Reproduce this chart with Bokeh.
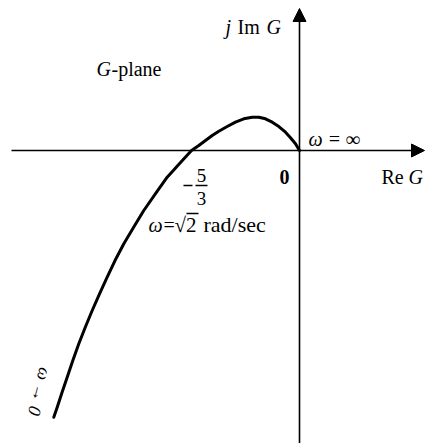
from bokeh.plotting import figure
from bokeh.models import Range1d, Arrow, NormalHead
from bokeh.core.properties import value
from bokeh.embed import file_html
from bokeh.resources import INLINE

# Polar (Nyquist) locus of G(jw) in the G-plane: from w = inf at the origin,
# over the small lobe above the real axis, through -5/3, and down-left toward w = 0+
re_g = [0.0, -0.062, -0.139, -0.216, -0.319, -0.421, -0.525, -0.628, -0.730, -0.860,
        -0.988, -1.116, -1.245, -1.347, -1.451, -1.554, -5 / 3,
        -1.836, -2.042, -2.222, -2.403, -2.562, -2.711, -2.847, -2.968, -3.086,
        -3.199, -3.306, -3.406, -3.498, -3.585, -3.665, -3.739, -3.792]
im_g = [0.0, 0.103, 0.196, 0.282, 0.370, 0.437, 0.489, 0.514, 0.514, 0.489,
        0.437, 0.370, 0.298, 0.231, 0.154, 0.077, 0.0,
        -0.185, -0.412, -0.664, -0.926, -1.188, -1.440, -1.698, -1.955, -2.211,
        -2.469, -2.727, -2.983, -3.241, -3.498, -3.735, -3.961, -4.116]

crossing_label = ("5", "3")

W, H = 425, 443
OX, OY = 299, 150      # origin position on the canvas
S = 64.8               # pixels per unit


def X(px):
    return (px - OX) / S


def Y(py):
    return (OY - py) / S


p = figure(width=W, height=H, x_range=Range1d(X(0), X(W)), y_range=Range1d(Y(H), Y(0)),
           toolbar_location=None, output_backend="svg", min_border=0,
           x_axis_location=None, y_axis_location=None, background_fill_color="white",
           border_fill_color="white")
p.grid.visible = False
p.outline_line_color = None

# Axes with arrow heads
p.add_layout(Arrow(x_start=X(11), y_start=0, x_end=X(424), y_end=0, line_width=1.6,
                   line_color="black",
                   end=NormalHead(size=13, fill_color="black", line_color="black", line_width=1)))
p.add_layout(Arrow(x_start=0, y_start=Y(H + 5), x_end=0, y_end=Y(8), line_width=1.6,
                   line_color="black",
                   end=NormalHead(size=13, fill_color="black", line_color="black", line_width=1)))

# Locus
p.line(re_g, im_g, line_width=3, line_color="black", line_join="round", line_cap="round")

SERIF = value("Liberation Serif")


def label(txt, px, py, size=20, style="normal", align="left", angle=0.0):
    p.text(x=[X(px)], y=[Y(py)], text=[txt], text_font=SERIF, text_font_size=f"{size}px",
           text_font_style=style, text_align=align, text_baseline="middle",
           text_color="black", angle=angle)


# j Im G
label("j", 225, 26, style="italic")
label("Im", 237, 26)
label("G", 266, 26, style="italic")

# G-plane
label("G", 96, 68, style="italic")
label("-plane", 111, 68)

# w = inf
label("ω = ∞", 308, 138, style="italic")

# origin and Re G
label("0", 284, 176, style="bold", align="center")
label("Re", 381, 176)
label("G", 408, 176, style="italic")

# -5/3 fraction at the real-axis crossing
label(crossing_label[0], 201, 175, size=19, align="center")
label(crossing_label[1], 201, 198, size=19, align="center")
p.line([X(195), X(207)], [Y(185), Y(185)], line_width=1.3, line_color="black")
p.line([X(183), X(192)], [Y(185), Y(185)], line_width=1.3, line_color="black")

# w = sqrt(2) rad/sec
label("ω", 148, 224, style="italic")
label("=", 163, 224)
label("√2", 174, 224, size=21)
p.line([X(186), X(198)], [Y(213), Y(213)], line_width=1.3, line_color="black")
label("rad/sec", 203, 224, size=22)

# w -> 0 along the lower branch
label("ω → 0", 39, 391, size=18, style="italic", align="center", angle=-1.82)

open("out.html", "w").write(file_html(p, INLINE))
